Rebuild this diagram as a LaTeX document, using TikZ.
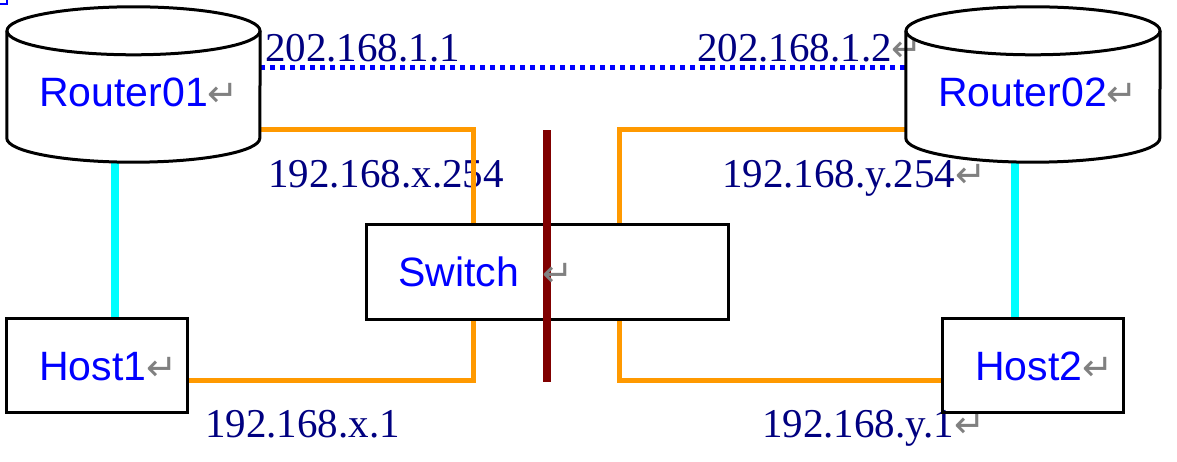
\documentclass[tikz,border=0pt]{standalone}
\usepackage{fontspec}
\setmainfont{Liberation Serif}
\setsansfont{Liberation Sans}
\newfontfamily\markfont{DejaVu Sans}
\usetikzlibrary{backgrounds}

\definecolor{devblue}{HTML}{0000FF}
\definecolor{ipnavy}{HTML}{000080}
\definecolor{wireorange}{HTML}{FF9900}
\definecolor{barred}{HTML}{800000}
\definecolor{markgray}{HTML}{808080}
\definecolor{linkcyan}{HTML}{00FFFF}

\newcommand{\pmark}{{\markfont\fontsize{37}{37}\selectfont\textcolor{markgray}{↵}}}

\tikzset{
  devbox/.style={draw=black,line width=3pt,inner sep=0pt,minimum height=94pt},
  router/.style={inner sep=0pt,minimum height=155pt},
  devname/.style={inner sep=0pt,anchor=base west,text=devblue,font=\sffamily\fontsize{41}{41}\selectfont},
  iplabel/.style={inner sep=0pt,anchor=base west,text=ipnavy,font=\fontsize{41}{41}\selectfont},
  wire/.style={draw=wireorange,line width=5pt},
  uplink/.style={draw=linkcyan,line width=8pt},
}

\begin{document}
\begin{tikzpicture}[x=1pt,y=-1pt]

\useasboundingbox (0,0) rectangle (1177,462);

\node [router,minimum width=253pt] (r1) at (133.5,84.5) {};
\node [router,minimum width=254pt] (r2) at (1033,84.5) {};

\node [devbox,minimum width=362pt] (sw) at (547,272) {};
\node [devbox,minimum width=181pt] (h1) at (96.5,365) {};
\node [devbox,minimum width=181pt] (h2) at (1032.5,365) {};

% cylinders
\foreach \r/\rx in {r1/126.5,r2/127} {
\draw [line width=3pt] ([yshift=-24pt]\r.north west) -- ([yshift=24pt]\r.south west)
  arc [start angle=180,end angle=0,x radius=\rx,y radius=24]
  -- ([yshift=-24pt]\r.north east);
\draw [line width=3pt] ([yshift=-24pt]\r.north) ellipse [x radius=\rx,y radius=24];
}

\begin{pgfonlayer}{background}
\node [iplabel] (ip11) at (265,62) {202.168.1.1};
\node [iplabel] (ip12) at (697,62) {202.168.1.2\pmark};
\node [iplabel] (ipx254) at (268,188) {192.168.x.254};
\node [iplabel] (ipy254) at (722,188) {192.168.y.254\pmark};
\node [iplabel] (ipx1) at (205,437) {192.168.x.1};
\node [iplabel] (ipy1) at (762,437) {192.168.y.1\pmark};

\draw [devblue,line width=5pt,dash pattern=on 5pt off 5pt] ([yshift=16.5pt]r1.east) -- ([yshift=16.5pt]r2.west);

\draw [wire] ([yshift=-45.5pt]r1.east) -| ([xshift=109pt]sw.north west);
\draw [wire] ([yshift=-45.5pt]r2.west) -| ([xshift=-110pt]sw.north east);
\draw [wire] ([xshift=109pt]sw.south west) |- ([yshift=-15pt]h1.east);
\draw [wire] ([xshift=-110pt]sw.south east) |- ([yshift=-15pt]h2.west);

\draw [uplink] ([xshift=-18.5pt]r1.south) -- ([xshift=18.5pt]h1.north);
\draw [uplink] ([xshift=-18pt]r2.south) -- ([xshift=-17.5pt]h2.north);
\end{pgfonlayer}

\draw [barred,line width=8pt] ([yshift=93pt]sw.north) -- ([yshift=-61pt]sw.south);

\node [devname] (t1) at (39,107) {Router01\pmark};
\node [devname] (t2) at (938,107) {Router02\pmark};
\node [devname] (ts) at (398,287) {Switch\hspace{24pt}\pmark};
\node [devname] (th1) at (39,380) {Host1\pmark};
\node [devname] (th2) at (975,380) {Host2\pmark};

\draw [devblue,line width=1.5pt] (0,4) -- (7,4) -- (7,0);

\end{tikzpicture}
\end{document}
